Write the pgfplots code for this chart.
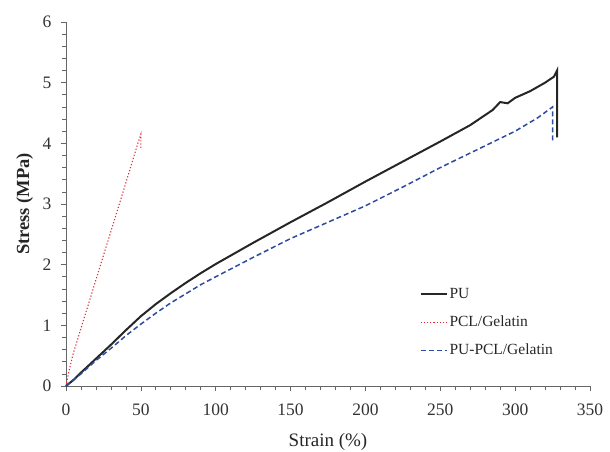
\documentclass[border=0pt]{standalone}
\usepackage{pgfplots}
\pgfplotsset{compat=1.18}
\usepackage{fontspec}
\setmainfont{Liberation Serif}
\definecolor{publue}{RGB}{45,75,160}
\definecolor{pcred}{RGB}{230,40,50}
\begin{document}
\begin{tikzpicture}[x=1pt,y=1pt]
\useasboundingbox (-66,-66) rectangle (544,386);
\begin{axis}[
  at={(0,0)}, anchor=south west,
  scale only axis, width=524pt, height=364pt,
  xmin=0, xmax=350, ymin=0, ymax=6,
  axis x line=bottom, axis y line=left,
  axis line style={-, black!60, line width=0.8pt},
  xtick={0,50,...,350}, ytick={0,1,...,6},
  minor x tick num=4, minor y tick num=4,
  tick align=outside,
  major tick length=5pt, minor tick length=4pt,
  tick style={black!60, line width=0.7pt},
  ticklabel style={font=\fontsize{17.5}{20}\selectfont, text=black!80},
  xticklabel style={yshift=-9pt},
  yticklabel style={xshift=-6pt},
  /pgf/number format/assume math mode=true,
  xlabel={Strain (\%)}, ylabel={\bfseries Stress (MPa)},
  xlabel style={font=\fontsize{19}{22}\selectfont, text=black!85, at={(axis description cs:0.5,0)}, anchor=center, yshift=-56pt},
  ylabel style={font=\fontsize{18.5}{22}\selectfont, text=black!85, at={(axis description cs:-0.079,0.5)}, anchor=center},
  legend style={draw=none, fill=none, at={(axis cs:234,1.68)}, anchor=north west,
    font=\fontsize{15.5}{18}\selectfont, row sep=12pt, text=black!85},
  legend cell align=left,
  legend image code/.code={\draw[#1] (0pt,0pt) -- (26pt,0pt);},
  clip=false,
]
\addplot[black!85, line width=2pt] coordinates {
(0,0) (5,0.1) (10,0.22) (20,0.45) (30,0.68) (40,0.92) (50,1.15) (60,1.35) (70,1.53) (80,1.7) (90,1.86) (100,2.01) (125,2.36) (150,2.7) (175,3.03) (200,3.37) (225,3.7) (250,4.03) (270,4.3) (285,4.55) (290,4.68) (295,4.66) (300,4.75) (310,4.86) (320,5.0) (326,5.1) (328,5.2) (328,4.1)
};
\addlegendentry{PU}
\addplot[pcred, line width=1.1pt, dash pattern=on 1.2pt off 2pt] coordinates {
(0,0) (2,0.25) (5,0.55) (10,0.95) (20,1.75) (30,2.55) (40,3.35) (48,4.0) (50,4.15) (50,3.9)
};
\addlegendentry{PCL/Gelatin}
\addplot[publue, line width=1.5pt, dash pattern=on 5pt off 3pt] coordinates {
(0,0) (10,0.2) (20,0.42) (30,0.62) (40,0.83) (50,1.02) (60,1.2) (70,1.37) (80,1.52) (90,1.67) (100,1.8) (125,2.12) (150,2.43) (175,2.7) (200,2.97) (225,3.28) (250,3.6) (275,3.9) (300,4.2) (315,4.42) (325,4.6) (325,4.0)
};
\addlegendentry{PU-PCL/Gelatin}
\end{axis}
\end{tikzpicture}
\end{document}
